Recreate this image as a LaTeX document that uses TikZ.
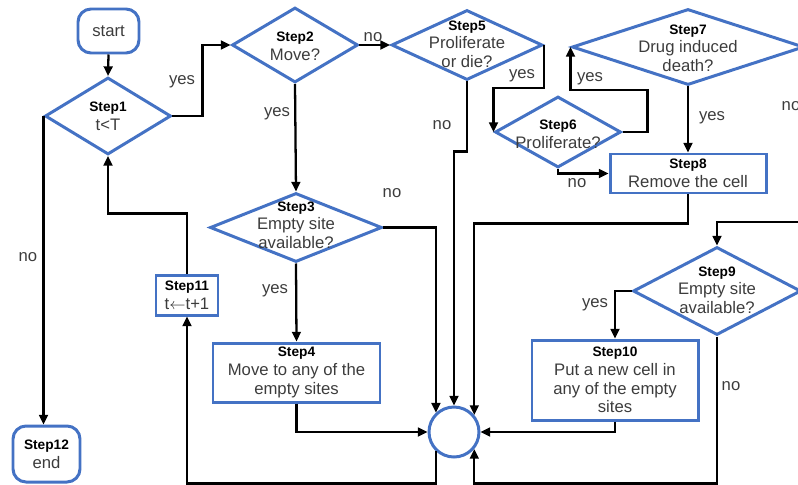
\documentclass[tikz,border=0pt]{standalone}
\usepackage{fontspec}
\setmainfont{Liberation Sans}
\usetikzlibrary{shapes.geometric,arrows.meta}

\definecolor{r68g114b196}{rgb}{0.266667,0.447059,0.768627}
\definecolor{r60g60b60}{rgb}{0.235294,0.235294,0.235294}

\newcommand{\bodyfont}{\fontsize{9.5}{10.6}\selectfont}
\newcommand{\steplabel}{\fontsize{7.8}{9}\selectfont\bfseries\color{black}}

\tikzset{
  decision/.style 2 args={diamond, draw=r68g114b196, line width=1.7pt, inner sep=0pt,
    minimum width=#1*0.02cm, minimum height=#2*0.02cm},
  process/.style 2 args={rectangle, draw=r68g114b196, line width=1.7pt, inner sep=0pt,
    align=center, font=\bodyfont, text=r60g60b60,
    minimum width=#1*0.02cm, minimum height=#2*0.02cm},
  terminal/.style 2 args={process={#1}{#2}, rounded corners=0.26cm},
  joint/.style={circle, draw=r68g114b196, line width=1.7pt, minimum size=1cm, inner sep=0pt},
  steptext/.style={align=center, inner sep=0pt, font=\bodyfont, text=r60g60b60},
  answer/.style={inner sep=0pt, font=\bodyfont, text=r60g60b60},
  flow/.style={line width=1.3pt, -{Triangle[length=5.5pt,width=5pt]}},
}

\begin{document}
\begin{tikzpicture}[x=0.02cm,y=-0.02cm]
  \useasboundingbox (0,0) rectangle (798,484);

  % Terminals
  \node[terminal={61}{44}] (start) at (108.5,31) {start};
  \node[terminal={67}{56}] (s12) at (46.5,454) {{\steplabel Step12}\\end};

  % Decisions
  \node[decision={126}{77}] (s1) at (108,116) {};
  \node[steptext] (s1t) at (108,116) {{\steplabel Step1}\\t<T};
  \node[decision={126}{75}] (s2) at (295,45) {};
  \node[steptext] (s2t) at (295,46) {{\steplabel Step2}\\Move?};
  \node[decision={151}{70}] (s5) at (467,45) {};
  \node[steptext] (s5t) at (467,44) {{\steplabel Step5}\\Proliferate\\or die?};
  \node[decision={126}{71}] (s6) at (558,132) {};
  \node[steptext] (s6t) at (558,134) {{\steplabel Step6}\\Proliferate?};
  \node[decision={232}{76}] (s7) at (688,47) {};
  \node[steptext] (s7t) at (688,48) {{\steplabel Step7}\\Drug induced\\death?};
  \node[decision={172}{69}] (s3) at (296,227.5) {};
  \node[steptext] (s3t) at (296,225) {{\steplabel Step3}\\Empty site\\available?};
  \node[decision={168}{88}] (s9) at (717,291) {};
  \node[steptext] (s9t) at (717,290) {{\steplabel Step9}\\Empty site\\available?};

  % Processes
  \node[process={156}{39}] (s8) at (688,173.5) {{\steplabel Step8}\\Remove the cell};
  \node[process={167}{59}] (s4) at (296.5,372.5) {{\steplabel Step4}\\Move to any of the\\empty sites};
  \node[process={62}{40}] (s11) at (187,295) {{\steplabel Step11}\\t$\leftarrow$t+1};
  \node[process={166}{80}] (s10) at (615,380) {{\steplabel Step10}\\Put a new cell in\\any of the empty\\sites};

  % Joining circle
  \node[joint] (j) at (454,432) {};
  \coordinate (rin) at (800,222);

  % Connectors
  \draw[flow] (start.south) -- (s1.north);
  \draw[flow] (s1.east) -- ++(30,0) |- (s2.west);
  \draw[flow] (s1.west) -- (s1.west |- s12.north);
  \draw[flow] (s2.east) -- (s5.west);
  \draw[flow] (s2.south) -- (s3.north);
  \draw[flow] (s5.east) -- ++(0,43) -| (s6.west);
  \draw[flow] (s5.south) -- ++(0,70) -| (j.north);
  \draw[flow] (s6.east) -- ++(25,0) -- ++(0,-42) -| (s7.west);
  \draw[flow] (s6.south) |- (s8.west);
  \draw[flow] (s7.south) -- (s8.north);
  \draw[flow] (s8.south) -- ++(0,29) -| (j.40);
  \draw[flow] (s3.east) -| (j.133);
  \draw[flow] (s3.south) -- (s4.north);
  \draw[flow] (s4.south) |- (j.west);
  \draw[flow] (rin) -| (s9.north);
  \draw[flow] (s9.west) -| (s10.north);
  \draw[flow] (s10.south) |- (j.east);
  \draw[flow] (s9.south) -- ++(0,147) -| (j.-40);
  \draw[flow] (j.-133) -- ++(0,32) -| (s11.south);
  \draw[flow] (s11.north) -- ++(0,-60) -| (s1.south);

  % Answers
  \node[answer] (a1) at (182,82) {yes};
  \node[answer] (a2) at (28,257) {no};
  \node[answer] (a3) at (373,37) {no};
  \node[answer] (a4) at (277,114) {yes};
  \node[answer] (a5) at (522,76) {yes};
  \node[answer] (a6) at (442,125) {no};
  \node[answer] (a7) at (590,79) {yes};
  \node[answer] (a8) at (577,183) {no};
  \node[answer] (a9) at (712,118) {yes};
  \node[answer] (a10) at (791,106) {no};
  \node[answer] (a11) at (392,193) {no};
  \node[answer] (a12) at (275,291) {yes};
  \node[answer] (a13) at (595,305) {yes};
  \node[answer] (a14) at (731,386) {no};
\end{tikzpicture}
\end{document}
